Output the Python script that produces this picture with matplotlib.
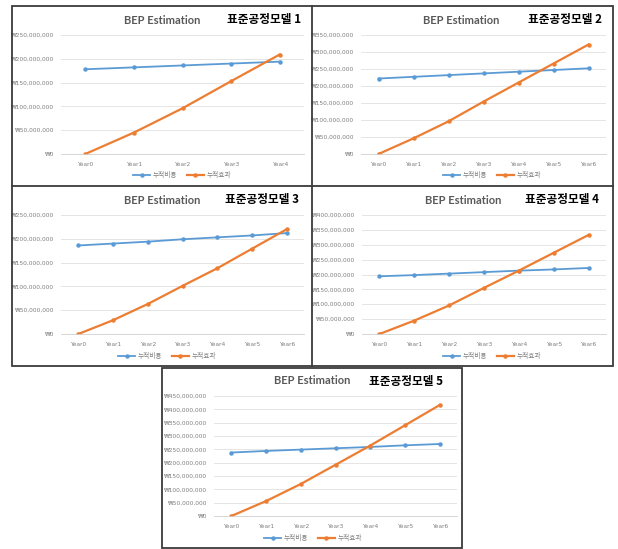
import numpy as np
import matplotlib.pyplot as plt
from matplotlib.ticker import FuncFormatter, MultipleLocator
from matplotlib.lines import Line2D

# values in millions of won
years5 = ['Year0', 'Year1', 'Year2', 'Year3', 'Year4']
years7 = ['Year0', 'Year1', 'Year2', 'Year3', 'Year4', 'Year5', 'Year6']

cost1 = [178, 182, 186, 190, 194]
effect1 = [0, 45, 96, 153, 209]
cost2 = [222, 227, 232, 237, 242, 247, 252]
effect2 = [0, 46, 96, 154, 210, 266, 322]
cost3 = [186, 190, 194, 199, 203, 207, 212]
effect3 = [0, 29, 63, 101, 138, 179, 220]
cost4 = [194, 198, 203, 208, 213, 217, 222]
effect4 = [0, 45, 96, 155, 213, 273, 333]
cost5 = [238, 244, 249, 254, 259, 265, 270]
effect5 = [0, 56, 120, 192, 264, 340, 416]

titles = ['표준공정모델 1', '표준공정모델 2', '표준공정모델 3', '표준공정모델 4', '표준공정모델 5']
legend_labels = ['누적비용', '누적효과']
y_max = [250, 350, 250, 400, 450]

W, H = 618, 549
BLUE = '#5B9BD5'
ORANGE = '#ED7D31'
GRAY = '#7F7F7F'
KFONT = ['Noto Sans CJK KR', 'DejaVu Sans']
LFONT = ['Lato', 'DejaVu Sans']

fig = plt.figure(figsize=(W / 100, H / 100), dpi=100)
fig.patch.set_facecolor('white')


def fx(x):
    return x / W


def fy(y):
    return 1 - y / H


# pixel layout of each panel: axes left, top, right, bottom; title y; BEP x; model x; legend x, y
layout = [
    dict(ax=(61, 35, 304, 154), ty=20, bx=162, mx=264, lx=182, ly=175),
    dict(ax=(361, 35, 606, 154), ty=20, bx=461, mx=565, lx=492, ly=175),
    dict(ax=(61, 215, 304, 334), ty=200, bx=162, mx=262, lx=167, ly=356),
    dict(ax=(362, 215, 606, 334), ty=200, bx=463, mx=562, lx=492, ly=356),
    dict(ax=(214, 396, 457, 516), ty=381, bx=312, mx=406, lx=313, ly=538),
]
data = [(years5, cost1, effect1), (years7, cost2, effect2), (years7, cost3, effect3),
        (years7, cost4, effect4), (years7, cost5, effect5)]

won = FuncFormatter(lambda v, p: '₩{:,.0f}'.format(v))

for i, (lay, (yrs, cost, eff)) in enumerate(zip(layout, data)):
    l, t, r, b = lay['ax']
    ax = fig.add_axes([fx(l), fy(b), (r - l) / W, (b - t) / H])
    x = np.arange(len(yrs))
    ax.plot(x, np.array(cost) * 1e6, color=BLUE, lw=1.3, marker='o', ms=2.2)
    ax.plot(x, np.array(eff) * 1e6, color=ORANGE, lw=1.6, marker='o', ms=2.2)
    ax.set_xlim(-0.5, len(yrs) - 0.5)
    ax.set_ylim(0, y_max[i] * 1e6)
    ax.yaxis.set_major_locator(MultipleLocator(50e6))
    ax.yaxis.set_major_formatter(won)
    ax.set_xticks(x)
    ax.set_xticklabels(yrs)
    ax.grid(axis='y', color='#E0E0E0', lw=0.6)
    ax.set_axisbelow(True)
    for s in ['top', 'right', 'left']:
        ax.spines[s].set_visible(False)
    ax.spines['bottom'].set_color('#D0D0D0')
    ax.spines['bottom'].set_linewidth(0.6)
    ax.tick_params(length=0, labelsize=4.2, labelcolor=GRAY, pad=5)
    ax.tick_params(axis='x', pad=6)

    fig.text(fx(lay['bx']), fy(lay['ty']), 'BEP Estimation', ha='center', va='center',
             fontsize=8, fontweight='bold', color='#595959', family=LFONT)
    fig.text(fx(lay['mx']), fy(lay['ty']), titles[i], ha='center', va='center',
             fontsize=8.4, fontweight='bold', color='black', family=KFONT)

    handles = [Line2D([], [], color=BLUE, lw=1.3, marker='o', ms=2.2),
               Line2D([], [], color=ORANGE, lw=1.6, marker='o', ms=2.2)]
    fig.legend(handles, legend_labels, loc='center', ncol=2, frameon=False,
               bbox_to_anchor=(fx(lay['lx']), fy(lay['ly'])),
               prop={'family': KFONT, 'size': 4.8}, labelcolor=GRAY,
               handlelength=2.5, columnspacing=1.5, handletextpad=0.4)

# panel frames
frame = dict(color='#3A3A3A', lw=1.3)
fig.add_artist(plt.Rectangle((fx(12), fy(366)), (613 - 12) / W, (366 - 6) / H,
                             fill=False, ec='#3A3A3A', lw=1.3, transform=fig.transFigure))
fig.add_artist(Line2D([fx(312), fx(312)], [fy(6), fy(366)], transform=fig.transFigure, **frame))
fig.add_artist(Line2D([fx(12), fx(613)], [fy(186), fy(186)], transform=fig.transFigure, **frame))
fig.add_artist(plt.Rectangle((fx(162), fy(548)), (462 - 162) / W, (548 - 368) / H,
                             fill=False, ec='#3A3A3A', lw=1.3, transform=fig.transFigure))

fig.savefig('out.png', dpi=100)
